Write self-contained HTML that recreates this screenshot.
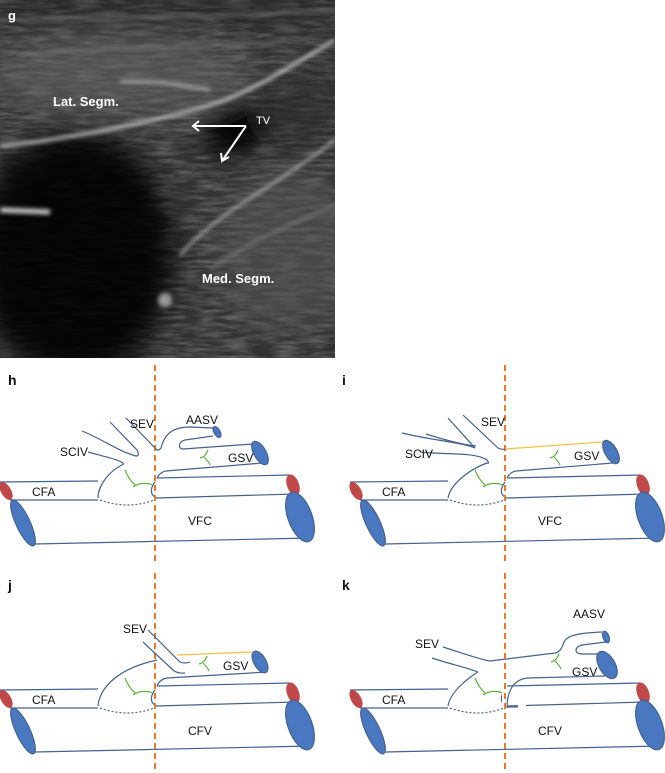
<!DOCTYPE html>
<html><head><meta charset="utf-8"><style>
html,body{margin:0;padding:0;background:#fff;width:665px;height:773px;overflow:hidden}
svg{display:block}
text{font-family:"Liberation Sans",sans-serif}
</style></head><body>
<svg width="665" height="773" viewBox="0 0 665 773" xmlns="http://www.w3.org/2000/svg">
<defs>
<filter id="bl" x="-20%" y="-20%" width="140%" height="140%"><feGaussianBlur stdDeviation="2"/></filter>
<filter id="bl2" x="-50%" y="-50%" width="200%" height="200%"><feGaussianBlur stdDeviation="14"/></filter>
<filter id="noise" x="0" y="0" width="100%" height="100%">
<feTurbulence type="fractalNoise" baseFrequency="0.04 0.25" numOctaves="3" seed="4"/>
<feColorMatrix type="matrix" values="0 0 0 0 1  0 0 0 0 1  0 0 0 0 1  1.6 0 0 0 -0.55"/>
</filter>
<clipPath id="us"><rect x="0" y="0" width="335" height="358"/></clipPath>
</defs>
<g clip-path="url(#us)">
<rect x="0" y="0" width="335" height="358" fill="#333"/>
<rect x="0" y="0" width="335" height="358" filter="url(#noise)" opacity="0.3"/>
<g filter="url(#bl2)">
<rect x="0" y="0" width="335" height="25" fill="#1e1e1e" opacity="0.6"/>
<ellipse cx="120" cy="75" rx="130" ry="40" fill="#666" opacity="0.6"/>
<ellipse cx="290" cy="250" rx="70" ry="80" fill="#555" opacity="0.6"/>
<ellipse cx="75" cy="255" rx="100" ry="125" fill="#050505" opacity="0.9"/>
<ellipse cx="235" cy="130" rx="32" ry="26" fill="#030303" transform="rotate(-30 235 130)"/>
<ellipse cx="300" cy="110" rx="40" ry="40" fill="#2a2a2a" opacity="0.6"/>
</g>
<g filter="url(#bl)" stroke="#cfcfcf" fill="none" stroke-width="3">
<path d="M0,146 C60,140 140,125 200,108 C250,95 300,60 335,40"/>
<path d="M0,210 L50,212" stroke-width="5"/>
<path d="M120,82 C150,80 180,84 210,90" stroke-width="2"/>
<path d="M180,255 C220,210 270,190 335,140" stroke-width="2"/>
<path d="M210,270 C250,240 290,225 335,205" stroke-width="1.5" stroke="#999"/>
<path d="M0,20 C100,15 200,20 335,10" stroke="#777" stroke-width="2"/>
<path d="M20,55 C100,45 200,50 300,40" stroke="#888" stroke-width="1.5"/>
<circle cx="165" cy="300" r="7" fill="#999" stroke="none"/>
</g>
</g>
<text x="8" y="20" fill="#fff" font-size="13" font-weight="bold">g</text>
<text x="53" y="106" fill="#fff" font-size="13" font-weight="bold">Lat. Segm.</text>
<text x="202" y="283" fill="#fff" font-size="13" font-weight="bold">Med. Segm.</text>
<text x="256" y="124" fill="#fff" font-size="11">TV</text>
<g stroke="#fff" stroke-width="2" fill="none">
<path d="M246,126 L193,126 M199,121 L193,126 L199,131"/>
<path d="M246,126 L222,161 M221,153 L222,161 L229,157"/>
</g>

<defs>
<g id="base" fill="none" stroke="#45628f" stroke-width="1.2">
<path d="M0,122 L98,121 M10,140 L98,140"/>
<path d="M157,118 L290,115 M157,138 L295,134"/>
<path d="M35,184 L310,178"/>
<path d="M100,140 Q128,150 154,140" stroke-dasharray="2,2"/>
<ellipse cx="6" cy="131" rx="5" ry="10" transform="rotate(-30 6 131)" fill="#c04848" stroke="none"/>
<ellipse cx="293" cy="125" rx="6" ry="11" transform="rotate(-20 293 125)" fill="#c04848" stroke="none"/>
<ellipse cx="23" cy="163" rx="7" ry="25" transform="rotate(-25 23 163)" fill="#4a78c0" stroke="#45628f"/>
<ellipse cx="300" cy="157" rx="12" ry="26" transform="rotate(-20 300 157)" fill="#4a78c0" stroke="#45628f"/>
<path d="M155,122 C149,130 151,136 157,138"/>
<path d="M125,110 C128,118 132,122 135,125 M133,127 C140,122 148,123 153,125" stroke="#5ab43c"/>
<line x1="155" y1="5" x2="155" y2="205" stroke="#e8782a" stroke-width="2" stroke-dasharray="6,4"/>
<text x="32" y="136" font-size="12" fill="#111" stroke="none">CFA</text>
</g>
</defs>

<g transform="translate(0,360)">
<text x="8" y="25" font-size="14" font-weight="bold" fill="#111">h</text>
<use href="#base"/>
<g fill="none" stroke="#45628f" stroke-width="1.2">
<path d="M124,104 C110,110 98,125 98,138"/>
<path d="M88,92 C110,98 120,100 124,104"/>
<path d="M157,118 Q160,112 166,111 L263,103"/>
<path d="M213,76 L185,80 C178,82 178,89 183,89 L253,84"/>
<path d="M155,88 Q158,92 161,88 C165,72 175,67 190,67 L213,68"/>
<path d="M126,58 L155,88"/>
<path d="M110,62 L137,90 Q140,96 136,96 C120,92 100,78 82,71"/>
<ellipse cx="217" cy="72" rx="3" ry="6" transform="rotate(-30 217 72)" fill="#4a78c0"/>
<ellipse cx="260" cy="93" rx="6" ry="13" transform="rotate(-30 260 93)" fill="#4a78c0"/>
<path d="M208,90 C206,95 204,97 200,98 M204,97 C207,100 209,102 210,105" stroke="#5ab43c"/>
</g>
<text x="130" y="68" font-size="12" fill="#111">SEV</text>
<text x="186" y="64" font-size="12" fill="#111">AASV</text>
<text x="60" y="96" font-size="12" fill="#111">SCIV</text>
<text x="228" y="102" font-size="12" fill="#111">GSV</text>
<text x="188" y="165" font-size="12" fill="#111">VFC</text>
</g>

<g transform="translate(350,360)">
<text x="-8" y="25" font-size="14" font-weight="bold" fill="#111">i</text>
<use href="#base"/>
<g fill="none" stroke="#45628f" stroke-width="1.2">
<path d="M137,103 C118,110 100,125 98,138"/>
<path d="M70,92 C100,95 125,92 137,100 Q140,104 137,103"/>
<path d="M52,73 C80,80 110,82 125,88"/>
<path d="M76,74 C95,80 115,85 126,86"/>
<path d="M98,58 L125,88"/>
<path d="M113,55 L148,88 Q152,90 157,89"/>
<path d="M157,118 Q160,112 166,111 L263,103"/>
<path d="M155,89 L253,82" stroke="#f0c040"/>
<ellipse cx="261" cy="92" rx="6" ry="13" transform="rotate(-30 261 92)" fill="#4a78c0"/>
<path d="M208,90 C206,95 204,97 200,98 M204,97 C207,100 209,102 210,105" stroke="#5ab43c"/>
</g>
<text x="131" y="66" font-size="12" fill="#111">SEV</text>
<text x="55" y="98" font-size="12" fill="#111">SCIV</text>
<text x="224" y="100" font-size="12" fill="#111">GSV</text>
<text x="188" y="165" font-size="12" fill="#111">VFC</text>
</g>

<g transform="translate(0,568)">
<text x="8" y="22" font-size="14" font-weight="bold" fill="#111">j</text>
<use href="#base"/>
<g fill="none" stroke="#45628f" stroke-width="1.2">
<path d="M98,138 C100,118 120,100 157,92"/>
<path d="M148,62 L180,94 Q185,96 190,94"/>
<path d="M143,74 L173,102 Q178,106 185,105"/>
<path d="M157,118 Q160,111 167,110 L267,104"/>
<path d="M177,87 L252,84" stroke="#f0c040"/>
<ellipse cx="260" cy="94" rx="6" ry="12" transform="rotate(-30 260 94)" fill="#4a78c0"/>
<path d="M207,88 C205,93 203,95 199,96 M203,95 C206,98 208,100 209,103" stroke="#5ab43c"/>
</g>
<text x="123" y="65" font-size="12" fill="#111">SEV</text>
<text x="223" y="102" font-size="12" fill="#111">GSV</text>
<text x="188" y="167" font-size="12" fill="#111">CFV</text>
</g>

<g transform="translate(350,568)">
<text x="-8" y="22" font-size="14" font-weight="bold" fill="#111">k</text>
<use href="#base"/>
<rect x="152" y="110" width="5" height="30" fill="#fff"/>
<rect x="168" y="133" width="8" height="9" fill="#fff"/>
<g fill="none" stroke="#45628f" stroke-width="1.2">
<path d="M128,104 C115,112 100,125 98,138"/>
<path d="M82,90 C100,96 118,100 128,104"/>
<path d="M93,79 C115,86 132,92 140,93 L205,85 C210,84 212,80 214,74 C217,67 230,65 252,64"/>
<path d="M256,74 L232,77 C224,79 224,86 232,86 L248,86"/>
<path d="M157,140 C157,125 162,112 177,110 L255,108"/>
<path d="M157,139 L168,139"/>
<ellipse cx="256" cy="69" rx="3" ry="6" transform="rotate(-20 256 69)" fill="#4a78c0"/>
<ellipse cx="257" cy="97" rx="8" ry="15" transform="rotate(-30 257 97)" fill="#4a78c0"/>
<path d="M209,86 C207,91 205,93 201,94 M205,93 C208,96 210,98 211,101" stroke="#5ab43c"/>
</g>
<line x1="155" y1="5" x2="155" y2="205" stroke="#e8782a" stroke-width="2" stroke-dasharray="6,4"/>
<text x="65" y="80" font-size="12" fill="#111">SEV</text>
<text x="223" y="50" font-size="12" fill="#111">AASV</text>
<text x="222" y="108" font-size="12" fill="#111">GSV</text>
<text x="188" y="167" font-size="12" fill="#111">CFV</text>
</g>
</svg>
</body></html>
